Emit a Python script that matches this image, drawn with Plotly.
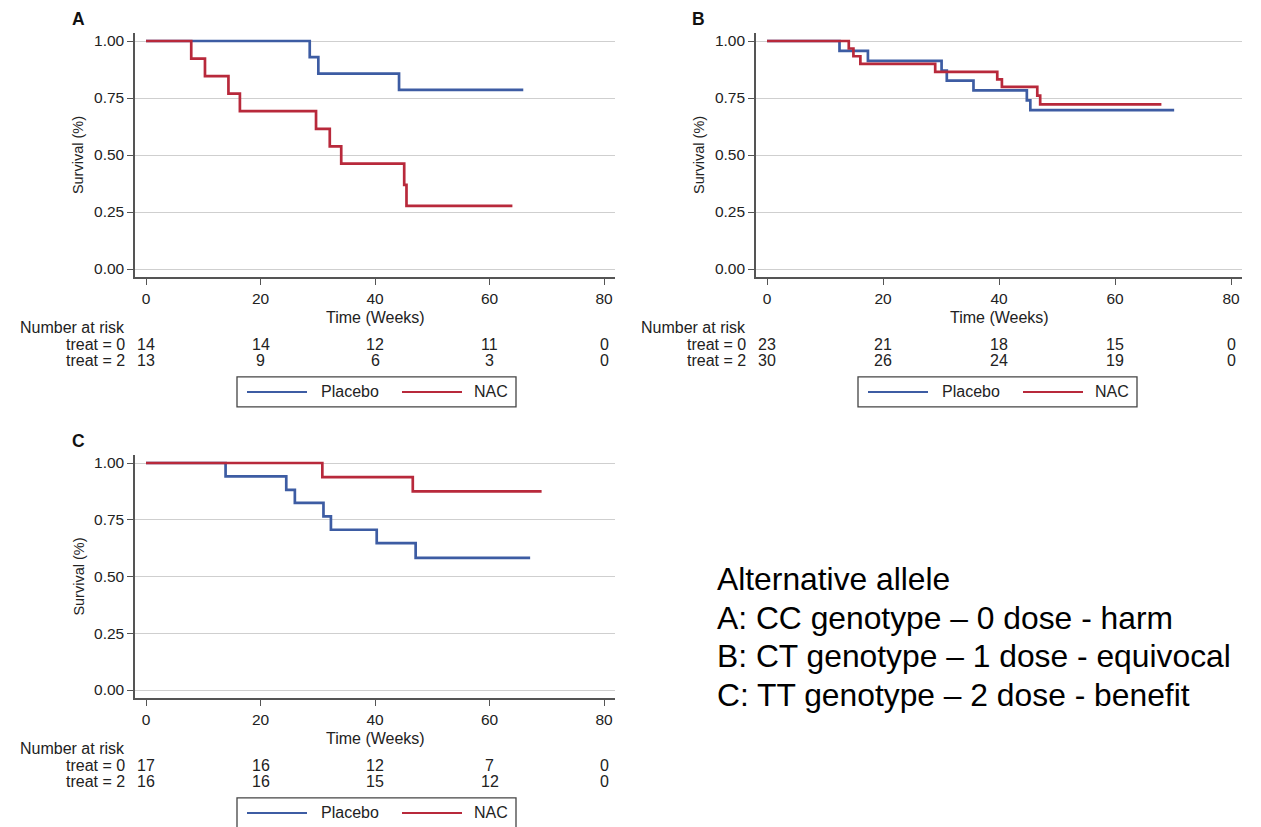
import plotly.graph_objects as go

W, H = 1261, 827

# ---------------- data ----------------
risk_times = [0, 20, 40, 60, 80]

A_placebo_t = [0, 28.6, 30.1, 44.2, 65.9]
A_placebo_s = [1.0, 0.929, 0.857, 0.786, 0.786]
A_nac_t = [0, 7.9, 10.3, 14.4, 16.4, 29.7, 32.1, 34.1, 45.1, 45.5, 64.0]
A_nac_s = [1.0, 0.923, 0.846, 0.769, 0.692, 0.615, 0.538, 0.462, 0.369, 0.277, 0.277]
A_risk_0 = [14, 14, 12, 11, 0]
A_risk_2 = [13, 9, 6, 3, 0]

B_placebo_t = [0, 12.5, 17.4, 30.1, 31.0, 35.6, 44.8, 45.4, 70.2]
B_placebo_s = [1.0, 0.957, 0.913, 0.870, 0.826, 0.783, 0.740, 0.697, 0.697]
B_nac_t = [0, 14.1, 14.9, 16.1, 29.0, 39.7, 40.5, 46.6, 47.1, 68.0]
B_nac_s = [1.0, 0.967, 0.933, 0.900, 0.865, 0.832, 0.799, 0.760, 0.722, 0.722]
B_risk_0 = [23, 21, 18, 15, 0]
B_risk_2 = [30, 26, 24, 19, 0]

C_placebo_t = [0, 13.9, 24.5, 26.0, 31.0, 32.3, 40.3, 47.1, 67.1]
C_placebo_s = [1.0, 0.941, 0.882, 0.824, 0.765, 0.706, 0.647, 0.582, 0.582]
C_nac_t = [0, 30.8, 46.6, 69.1]
C_nac_s = [1.0, 0.9375, 0.875, 0.875]
C_risk_0 = [17, 16, 12, 7, 0]
C_risk_2 = [16, 16, 15, 12, 0]

y_ticks = [0, 0.25, 0.5, 0.75, 1.0]
x_ticks = [0, 20, 40, 60, 80]
group_names = ["Placebo", "NAC"]
risk_labels = ["treat = 0", "treat = 2"]
panel_letters = ["A", "B", "C"]
note_lines = ["Alternative allele",
              "A: CC genotype \u2013 0 dose - harm",
              "B: CT genotype \u2013 1 dose - equivocal",
              "C: TT genotype \u2013 2 dose - benefit"]

# ---------------- styling ----------------
BLUE = "#3d5ca3"
RED = "#b8293b"
AXC = "#555555"
GRID = "#cfcfcf"
TXT = "#222222"
FONT = "Liberation Sans, Arial, Helvetica, sans-serif"
FS = 16

XR = [-1.9, 81.9]
YR = [-0.037, 1.037]

# panel geometry in pixels: (px of x=0, px of x=80, py of y=1, py of y=0)
geo = {
    "A": (146, 604, 41, 269),
    "B": (767, 1231, 41, 269),
    "C": (146, 604, 463, 690),
}

def px(v):
    return v / W

def py(v):
    return 1 - v / H

fig = go.Figure()
annotations = []
shapes = []

panels = [
    ("A", A_placebo_t, A_placebo_s, A_nac_t, A_nac_s, A_risk_0, A_risk_2),
    ("B", B_placebo_t, B_placebo_s, B_nac_t, B_nac_s, B_risk_0, B_risk_2),
    ("C", C_placebo_t, C_placebo_s, C_nac_t, C_nac_s, C_risk_0, C_risk_2),
]

layout_axes = {}
for i, (name, pt, ps, nt, ns, r0, r2) in enumerate(panels):
    x0p, x80p, y1p, y0p = geo[name]
    sx = (x80p - x0p) / 80.0
    sy = (y0p - y1p) / 1.0
    left = x0p + XR[0] * sx
    right = x0p + XR[1] * sx
    bottom = y0p - YR[0] * sy
    top = y0p - YR[1] * sy
    suffix = "" if i == 0 else str(i + 1)
    xa = "x" + suffix
    ya = "y" + suffix

    for t, s, col, nm in [(pt, ps, BLUE, group_names[0]), (nt, ns, RED, group_names[1])]:
        fig.add_trace(go.Scatter(x=t, y=s, mode="lines", line=dict(color=col, width=2.7, shape="hv"),
                                 name=nm, showlegend=False, xaxis=xa, yaxis=ya, hoverinfo="skip"))

    layout_axes["xaxis" + suffix] = dict(
        domain=[px(left), px(right)], range=XR, anchor=ya,
        tickvals=x_ticks, ticks="outside", ticklen=6, tickwidth=1.3, tickcolor=AXC,
        showline=True, linecolor=AXC, linewidth=1.6, showgrid=False, zeroline=False,
        tickfont=dict(family=FONT, size=15.5, color=TXT), fixedrange=True)
    layout_axes["yaxis" + suffix] = dict(
        domain=[py(bottom), py(top)], range=YR, anchor=xa,
        tickvals=y_ticks, tickformat=".2f", ticks="outside", ticklen=6, tickwidth=1.3, tickcolor=AXC,
        showline=True, linecolor=AXC, linewidth=1.6, showgrid=True, gridcolor=GRID, gridwidth=1.1,
        zeroline=False, tickfont=dict(family=FONT, size=15.5, color=TXT), fixedrange=True)

    # panel letter
    annotations.append(dict(text="<b>%s</b>" % panel_letters[i], xref="paper", yref="paper",
                            x=px(left - 57), y=py(top - 14), xanchor="center", yanchor="middle",
                            showarrow=False, font=dict(family=FONT, size=17.5, color="#111")))
    # y title
    annotations.append(dict(text="Survival (%)", xref="paper", yref="paper",
                            x=px(left - 57), y=py((y1p + y0p) / 2), textangle=-90,
                            xanchor="center", yanchor="middle", showarrow=False,
                            font=dict(family=FONT, size=14.5, color=TXT)))
    # x title
    annotations.append(dict(text="Time (Weeks)", xref=xa, yref="paper", x=40,
                            y=py(bottom + 40), xanchor="center", yanchor="middle", showarrow=False,
                            font=dict(family=FONT, size=FS, color=TXT)))
    # number at risk
    lab_right = left - 8
    annotations.append(dict(text="Number at risk", xref="paper", yref="paper", x=px(lab_right),
                            y=py(bottom + 50), xanchor="right", yanchor="middle", showarrow=False,
                            font=dict(family=FONT, size=FS, color=TXT)))
    for k, (lab, row) in enumerate([(risk_labels[0], r0), (risk_labels[1], r2)]):
        yy = py(bottom + 67 + 16 * k)
        annotations.append(dict(text=lab, xref="paper", yref="paper", x=px(lab_right), y=yy,
                                xanchor="right", yanchor="middle", showarrow=False,
                                font=dict(family=FONT, size=FS, color=TXT)))
        for tt, v in zip(risk_times, row):
            annotations.append(dict(text=str(v), xref=xa, yref="paper", x=tt, y=yy,
                                    xanchor="center", yanchor="middle", showarrow=False,
                                    font=dict(family=FONT, size=FS, color=TXT)))
    # legend box
    lx0 = x0p + 91
    lx1 = lx0 + 279
    ly0 = bottom + 99.5
    ly1 = ly0 + 30
    shapes.append(dict(type="rect", xref="paper", yref="paper", x0=px(lx0), x1=px(lx1),
                       y0=py(ly1), y1=py(ly0), line=dict(color="#444", width=1.3),
                       fillcolor="rgba(0,0,0,0)"))
    lym = py((ly0 + ly1) / 2)
    for (a, b, col, nm, tx) in [(lx0 + 10, lx0 + 70, BLUE, group_names[0], lx0 + 82),
                                (lx0 + 165, lx0 + 225, RED, group_names[1], lx0 + 235)]:
        shapes.append(dict(type="line", xref="paper", yref="paper", x0=px(a), x1=px(b),
                           y0=lym, y1=lym, line=dict(color=col, width=2)))
        annotations.append(dict(text=nm, xref="paper", yref="paper", x=px(tx), y=lym,
                                xanchor="left", yanchor="middle", showarrow=False,
                                font=dict(family=FONT, size=FS, color=TXT)))

# right-hand note
for j, line in enumerate(note_lines):
    annotations.append(dict(text=line, xref="paper", yref="paper", x=px(715), y=py(579 + 38.5 * j),
                            xanchor="left", yanchor="middle", showarrow=False,
                            font=dict(family=FONT, size=31.8, color="#000")))

fig.update_layout(width=W, height=H, margin=dict(l=0, r=0, t=0, b=0),
                  paper_bgcolor="white", plot_bgcolor="white", showlegend=False,
                  annotations=annotations, shapes=shapes, **layout_axes)

fig.write_html("out.html", config={"displayModeBar": False})
